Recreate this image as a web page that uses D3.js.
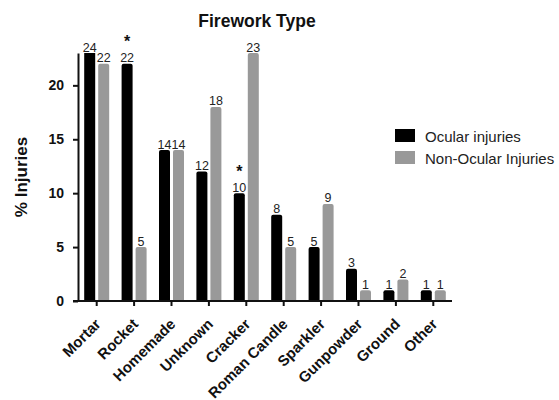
<!DOCTYPE html>
<html>
<head>
<meta charset="utf-8">
<script src="https://cdn.jsdelivr.net/npm/d3@7/dist/d3.min.js"></script>
<style>
  html, body { margin: 0; padding: 0; background: #fff; }
  svg { display: block; font-family: "Liberation Sans", Arial, Helvetica, sans-serif; }
</style>
</head>
<body>
<svg id="chart" width="559" height="400"></svg>
<script>
// Firework types and share of injuries (%)
const categories = ["Mortar", "Rocket", "Homemade", "Unknown", "Cracker",
  "Roman Candle", "Sparkler", "Gunpowder", "Ground", "Other"];
const ocular    = [24, 22, 14, 12, 10, 8, 5, 3, 1, 1];
const nonOcular = [22, 5, 14, 18, 23, 5, 9, 1, 2, 1];
const significant = [false, true, false, false, true, false, false, false, false, false];
const seriesNames = ["Ocular injuries", "Non-Ocular Injuries"];
const yTicks = [0, 5, 10, 15, 20];
const yTop = 23;

const colors = ["#000000", "#999999"];

const svg = d3.select("#chart");
const plot = { left: 78, right: 452, top: 53, bottom: 301 };

const x = d3.scaleBand().domain(categories).range([plot.left, plot.right]).padding(0);
const y = d3.scaleLinear().domain([0, yTop]).range([plot.bottom, plot.top]);

const barW = 11, gap = 3;

// Bars outside the axis range are cut at the top of the axis
svg.append("defs").append("clipPath").attr("id", "plotClip")
  .append("rect")
  .attr("x", plot.left).attr("y", plot.top)
  .attr("width", plot.right - plot.left).attr("height", plot.bottom - plot.top);

function barPath(x0, y0, w, h, r) {
  r = Math.min(r, h / 2, w / 2);
  return `M${x0},${y0 + h}V${y0 + r}Q${x0},${y0} ${x0 + r},${y0}` +
    `H${x0 + w - r}Q${x0 + w},${y0} ${x0 + w},${y0 + r}V${y0 + h}Z`;
}

const rows = categories.map((c, i) => ({ cat: c, vals: [ocular[i], nonOcular[i]], sig: significant[i] }));

const bars = [];
rows.forEach(r => r.vals.forEach((v, s) => bars.push({ cat: r.cat, v, s, sig: r.sig })));

function barX(d) {
  const cx = x(d.cat) + x.bandwidth() / 2;
  return d.s === 0 ? cx - gap / 2 - barW : cx + gap / 2;
}

svg.append("g").attr("clip-path", "url(#plotClip)")
  .selectAll("path.bar").data(bars).join("path")
  .attr("class", "bar")
  .attr("fill", d => colors[d.s])
  .attr("d", d => barPath(barX(d), y(d.v), barW, y(0) - y(d.v), 2));

// Value labels above each bar
const labelY = d => y(Math.min(d.v, yTop)) - 1.5;
svg.append("g").selectAll("text.val").data(bars).join("text")
  .attr("class", "val")
  .attr("x", d => barX(d) + barW / 2)
  .attr("y", labelY)
  .attr("text-anchor", "middle")
  .attr("font-size", 12.5)
  .attr("fill", "#222")
  .text(d => d.v);

// Significance markers
svg.append("g").selectAll("text.sig").data(bars.filter(d => d.s === 0 && d.sig)).join("text")
  .attr("class", "sig")
  .attr("x", d => barX(d) + barW / 2)
  .attr("y", d => labelY(d) - 15)
  .attr("text-anchor", "middle")
  .attr("font-size", 16)
  .attr("font-weight", "bold")
  .attr("fill", "#111")
  .text("*");

// Y axis
const yAxis = svg.append("g")
  .attr("transform", `translate(${plot.left},0)`)
  .call(d3.axisLeft(y).tickValues(yTicks).tickSize(5).tickSizeOuter(0).tickPadding(9));
yAxis.select(".domain").attr("stroke", "#111").attr("stroke-width", 2);
yAxis.selectAll(".tick line").attr("stroke", "#111").attr("stroke-width", 2);
yAxis.selectAll(".tick text")
  .attr("font-size", 14).attr("font-weight", "bold").attr("fill", "#111")
  .attr("font-family", "Liberation Sans, Arial, sans-serif");

// X axis
const xAxis = svg.append("g")
  .attr("transform", `translate(0,${plot.bottom})`)
  .call(d3.axisBottom(x).tickSize(5).tickSizeOuter(0));
xAxis.select(".domain").attr("stroke", "#111").attr("stroke-width", 2)
  .attr("d", `M${plot.left - 5},0H${plot.right}`);
xAxis.selectAll(".tick line").attr("stroke", "#111").attr("stroke-width", 2);
xAxis.selectAll(".tick text")
  .attr("font-size", 15).attr("font-weight", "bold").attr("fill", "#111")
  .attr("font-family", "Liberation Sans, Arial, sans-serif")
  .attr("text-anchor", "end")
  .attr("x", 0).attr("y", 0).attr("dy", 0)
  .attr("transform", "translate(5,24) rotate(-45)");

// Title
svg.append("text")
  .attr("x", 257).attr("y", 27)
  .attr("text-anchor", "middle")
  .attr("font-size", 17.5).attr("font-weight", "bold").attr("fill", "#111")
  .text("Firework Type");

// Y axis title
svg.append("text")
  .attr("transform", `translate(27,${(plot.top + plot.bottom) / 2}) rotate(-90)`)
  .attr("text-anchor", "middle")
  .attr("font-size", 17).attr("font-weight", "bold").attr("fill", "#111")
  .text("% Injuries");

// Legend
const legend = svg.append("g").attr("transform", "translate(395,129)");
seriesNames.forEach((name, i) => {
  const g = legend.append("g").attr("transform", `translate(0,${i * 22})`);
  g.append("rect").attr("width", 20).attr("height", 13).attr("fill", colors[i]);
  g.append("text").attr("x", 30).attr("y", 12.5)
    .attr("font-size", 15).attr("fill", "#222").text(name);
});
</script>
</body>
</html>
